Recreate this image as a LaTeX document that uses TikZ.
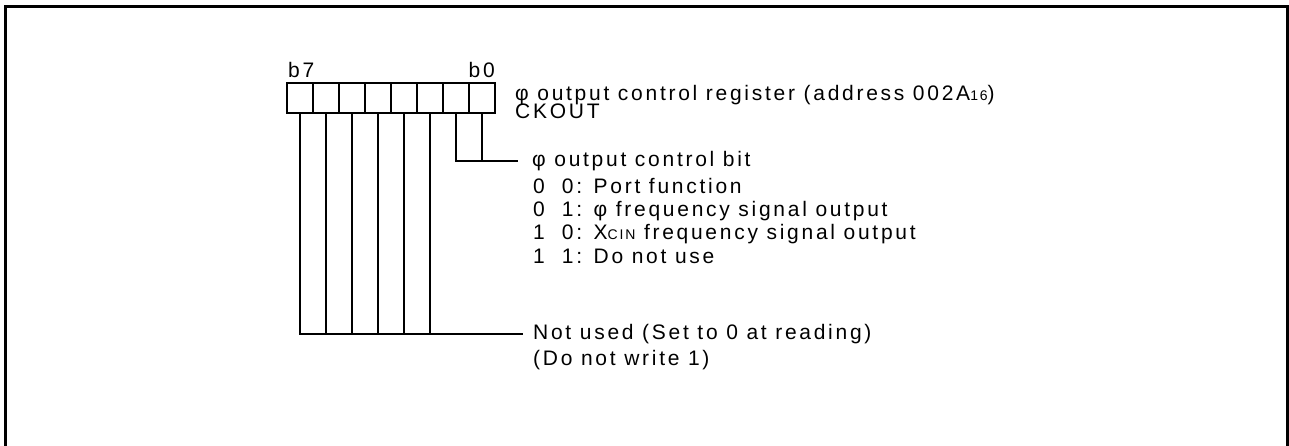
\documentclass[tikz,border=0pt]{standalone}
\usepackage{fontspec}
\setmainfont{Liberation Sans}[LetterSpace=13]
\usetikzlibrary{positioning}
\newcommand{\smallsz}{\fontsize{14}{14}\selectfont}

\begin{document}
\begin{tikzpicture}[
    x=1pt, y=1pt,
    cell/.style={rectangle, draw, line width=2pt, minimum width=26pt, minimum height=30pt, inner sep=0pt, outer sep=0pt},
    lbl/.style={inner sep=0pt, font=\fontsize{21}{23.3}\selectfont},
    wire/.style={line width=2pt},
    frame/.style={line width=3pt}
]
    \useasboundingbox (0,0) rectangle (1289,445);
    \draw[frame] (5,-20) rectangle (1287.5,438);

    \node[cell] (c7) at (300,347) {};
    \node[cell, right=0pt of c7] (c6) {};
    \node[cell, right=0pt of c6] (c5) {};
    \node[cell, right=0pt of c5] (c4) {};
    \node[cell, right=0pt of c4] (c3) {};
    \node[cell, right=0pt of c3] (c2) {};
    \node[cell, right=0pt of c2] (c1) {};
    \node[cell, right=0pt of c1] (c0) {};

    \node[lbl, anchor=base west] (b7) at (288,367) {b7};
    \node[lbl, anchor=base east] (b0) at (495,367) {b0};
    \node[lbl, anchor=base west] (reg) at (515,344) {φ output control register (address 002A{\smallsz 16})};
    \node[lbl, anchor=base west] (ckout) at (515,326) {CKOUT};

    \node[lbl, anchor=west, inner xsep=14pt] (ctl) at (518,284) {φ output control bit};
    \node[lbl, anchor=north west, align=left] (codes) at (533,267.3) {0\ \ 0: Port function\\0\ \ 1: φ frequency signal output\\1\ \ 0: X{\smallsz CIN} frequency signal output\\1\ \ 1: Do not use};
    \node[lbl, anchor=west, inner xsep=10pt] (unused) at (523,111) {Not used (Set to 0 at reading)};
    \node[lbl, anchor=base west] (nowrite) at (533,80) {(Do not write 1)};

    \draw[wire] (c1.south) |- (ctl.west);
    \draw[wire] (c0.south) -- (c0.south |- ctl.west);
    \draw[wire] (c7.south) |- (unused.west);
    \draw[wire] (c6.south) -- (c6.south |- unused.west);
    \draw[wire] (c5.south) -- (c5.south |- unused.west);
    \draw[wire] (c4.south) -- (c4.south |- unused.west);
    \draw[wire] (c3.south) -- (c3.south |- unused.west);
    \draw[wire] (c2.south) -- (c2.south |- unused.west);
\end{tikzpicture}
\end{document}
